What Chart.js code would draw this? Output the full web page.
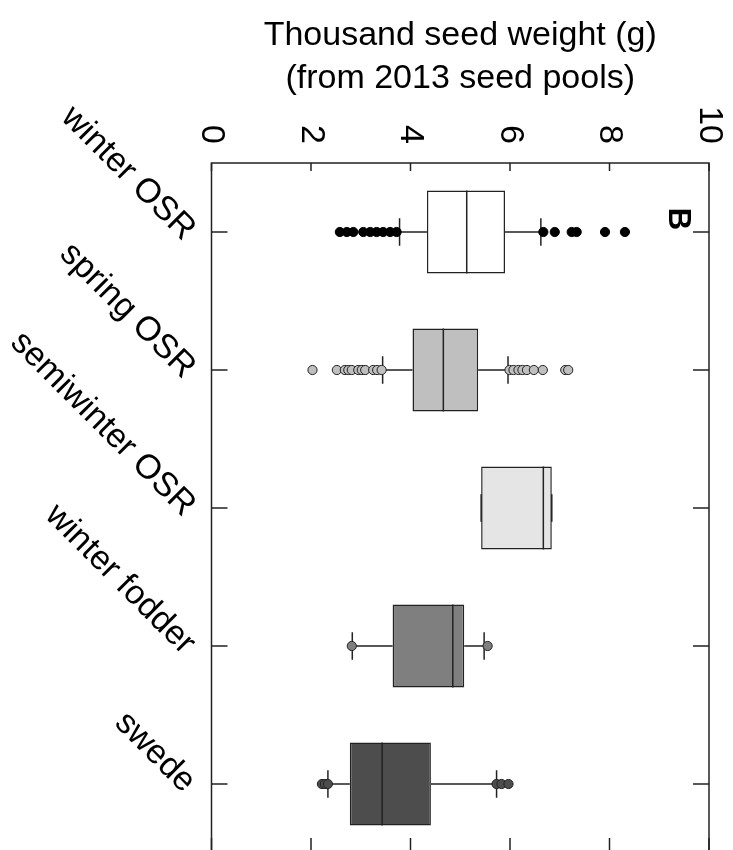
<!DOCTYPE html>
<html>
<head>
<meta charset="utf-8">
<script src="https://cdn.jsdelivr.net/npm/chart.js@4.4.1/dist/chart.umd.min.js"></script>
<style>
  html, body { margin: 0; padding: 0; background: #fff; overflow: hidden; }
  #wrap { width: 733px; height: 850px; overflow: hidden; position: relative; }
</style>
</head>
<body>
<div id="wrap"><canvas id="chart" width="733" height="860"></canvas></div>
<script>
// --- Data ---
const categories = ['winter OSR', 'spring OSR', 'semiwinter OSR', 'winter fodder', 'swede'];
const whiskerLow  = [3.78, 3.44, 5.42, 2.83, 2.34];
const q1          = [4.33, 4.04, 5.42, 3.64, 2.78];
const median      = [5.13, 4.66, 6.67, 4.85, 3.43];
const q3          = [5.90, 5.36, 6.84, 5.08, 4.41];
const whiskerHigh = [6.62, 5.96, 6.84, 5.48, 5.73];
const outliers = [
  [2.58, 2.72, 2.85, 3.05, 3.19, 3.32, 3.45, 3.59, 3.72, 6.67, 6.90, 7.24, 7.34, 7.91, 8.31],
  [2.03, 2.52, 2.68, 2.75, 2.82, 2.95, 3.02, 3.09, 3.25, 3.33, 3.42, 5.99, 6.07, 6.17, 6.25, 6.34, 6.48, 6.66, 7.11, 7.17],
  [],
  [2.82, 5.55],
  [2.22, 2.28, 2.34, 5.73, 5.83, 5.97]
];
const xTicks = [0, 2, 4, 6, 8, 10];
const titleLines = ['Thousand seed weight (g)', '(from 2013 seed pools)'];
const panelLetter = 'B';

// --- Styles ---
const boxFill = ['#ffffff', '#bfbfbf', '#e5e5e5', '#7f7f7f', '#4d4d4d'];
const pointFill = ['#000000', '#bfbfbf', '#e5e5e5', '#7f7f7f', '#4d4d4d'];
const ink = '#222222';
const FONT = '"Liberation Sans", Arial, Helvetica, sans-serif';

// category positions on the (reversed) linear y scale
const pos = categories.map((c, i) => i + 1);

// helper: list of [start, end] point pairs -> one broken polyline
const segments = pairs => pairs.flatMap(([a, b]) => [a, b, { x: null, y: null }]);

const boxData = pos.map((y, i) => ({ y, x: [q1[i], q3[i]] }));
const medianData = segments(pos.map((y, i) => [{ x: median[i], y: y - 0.3 }, { x: median[i], y: y + 0.3 }]));
const whiskerData = segments(pos.flatMap((y, i) => [
  [{ x: whiskerLow[i], y }, { x: q1[i], y }],
  [{ x: q3[i], y }, { x: whiskerHigh[i], y }]
]));
const stapleData = segments(pos.flatMap((y, i) => [
  [{ x: whiskerLow[i], y: y - 0.1 }, { x: whiskerLow[i], y: y + 0.1 }],
  [{ x: whiskerHigh[i], y: y - 0.1 }, { x: whiskerHigh[i], y: y + 0.1 }]
]));

const lineSet = (data, order) => ({
  type: 'scatter', data, showLine: true, spanGaps: false, order,
  borderColor: ink, borderWidth: 1.5, pointRadius: 0
});

const outlierSets = outliers.map((vals, i) => ({
  type: 'scatter',
  data: vals.map(v => ({ x: v, y: pos[i] })),
  order: 0,
  pointRadius: 4.6,
  pointBackgroundColor: pointFill[i],
  pointBorderColor: i === 0 ? '#000000' : ink,
  pointBorderWidth: 1
}));

// frame, inward ticks and rotated texts, placed via the chart scales
const framePlugin = {
  id: 'frame',
  afterDraw(chart) {
    const { ctx, chartArea: a, scales: { x, y } } = chart;
    ctx.save();
    ctx.strokeStyle = ink;
    ctx.lineWidth = 1.5;
    ctx.strokeRect(a.left, a.top, a.right - a.left, a.bottom - a.top);
    ctx.beginPath();
    xTicks.forEach(v => {
      const px = x.getPixelForValue(v);
      ctx.moveTo(px, a.top); ctx.lineTo(px, a.top + 8);
      ctx.moveTo(px, a.bottom); ctx.lineTo(px, a.bottom - 15);
    });
    pos.forEach(v => {
      const py = y.getPixelForValue(v);
      ctx.moveTo(a.left, py); ctx.lineTo(a.left + 16, py);
      ctx.moveTo(a.right, py); ctx.lineTo(a.right - 16, py);
    });
    ctx.stroke();

    ctx.fillStyle = '#000';
    ctx.font = '34px ' + FONT;
    // tick labels, rotated 90 deg clockwise, ending just above the frame
    xTicks.forEach(v => {
      ctx.save();
      ctx.translate(x.getPixelForValue(v), a.top - 19);
      ctx.rotate(Math.PI / 2);
      ctx.textAlign = 'right';
      ctx.textBaseline = 'middle';
      ctx.fillText(String(v), 0, 0);
      ctx.restore();
    });
    // category labels, rotated 45 deg
    categories.forEach((c, i) => {
      ctx.save();
      ctx.translate(a.left - 22, y.getPixelForValue(pos[i]) + 3);
      ctx.rotate(Math.PI / 4);
      ctx.textAlign = 'right';
      ctx.textBaseline = 'middle';
      ctx.fillText(c, 0, 0);
      ctx.restore();
    });
    // title
    ctx.textAlign = 'center';
    ctx.textBaseline = 'alphabetic';
    const cx = (a.left + a.right) / 2;
    titleLines.forEach((t, k) => ctx.fillText(t, cx, 45 + k * 43));
    // panel letter
    ctx.save();
    ctx.translate(a.right - 31, a.top + 56);
    ctx.rotate(Math.PI / 2);
    ctx.font = 'bold 31px ' + FONT;
    ctx.textAlign = 'center';
    ctx.textBaseline = 'middle';
    ctx.fillText(panelLetter, 0, 0);
    ctx.restore();
    ctx.restore();
  }
};

new Chart(document.getElementById('chart'), {
  data: {
    datasets: [
      {
        type: 'bar',
        indexAxis: 'y',
        data: boxData,
        order: 3,
        backgroundColor: boxFill,
        borderColor: ink,
        borderWidth: 1.5,
        borderSkipped: false,
        barPercentage: 0.6,
        categoryPercentage: 1.0
      },
      lineSet(whiskerData, 4),
      lineSet(stapleData, 4),
      lineSet(medianData, 1),
      ...outlierSets
    ]
  },
  options: {
    responsive: false,
    animation: false,
    layout: { padding: { left: 211.5, right: 24, top: 163, bottom: 7 } },
    scales: {
      x: { type: 'linear', min: 0, max: 10, position: 'top', offset: false, display: false },
      y: {
        type: 'linear', min: 0.5, max: 5.5, reverse: true, offset: false, display: false,
        // one tick per category, so the bar ruler uses the category spacing
        afterBuildTicks: s => { s.ticks = pos.map(v => ({ value: v })); }
      }
    },
    plugins: {
      legend: { display: false },
      tooltip: { enabled: false }
    }
  },
  plugins: [framePlugin]
});
</script>
</body>
</html>
